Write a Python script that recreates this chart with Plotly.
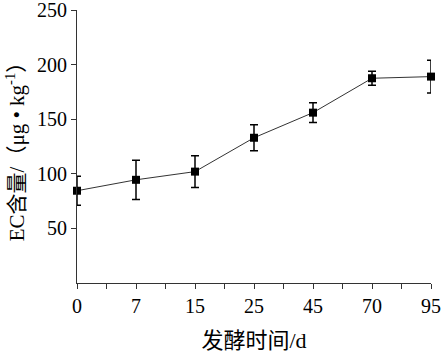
import plotly.graph_objects as go

days = ["0", "7", "15", "25", "45", "70", "95"]
ec = [84.5, 94.5, 102, 133, 156, 187.5, 189]
err = [13.3, 18, 14.6, 12, 9, 6.5, 15]
y_ticks = [50, 100, 150, 200, 250]

font_family = "Liberation Serif, Noto Sans CJK SC, serif"
cjk = "font-family:'Noto Sans CJK SC'"

fig = go.Figure()
fig.add_trace(go.Scatter(
    x=list(range(len(days))), y=ec,
    mode="lines+markers",
    line=dict(color="#333333", width=1),
    marker=dict(symbol="square", size=8, color="black"),
    error_y=dict(type="data", array=err, visible=True, color="black", thickness=1.5, width=4),
    cliponaxis=False,
    showlegend=False,
))

fig.update_layout(
    width=442, height=354,
    margin=dict(l=77, r=11, t=10, b=71, autoexpand=False),
    paper_bgcolor="white", plot_bgcolor="white",
    font=dict(family=font_family, size=20, color="black"),
    xaxis=dict(
        range=[0, 6], tickvals=list(range(len(days))), ticktext=days,
        showline=True, linecolor="#333333", linewidth=1,
        ticks="outside", ticklen=5, tickcolor="#333333",
        minor=dict(ticks="outside", dtick=0.5, tick0=0, ticklen=5, tickcolor="#333333"),
        showgrid=False, zeroline=False, automargin=False,
        ticklabeloverflow="allow",
        title=dict(text=f"<span style=\"{cjk}\">发酵时间</span>/d", font=dict(size=22, family=font_family), standoff=20),
    ),
    yaxis=dict(
        range=[0, 250], tickvals=y_ticks,
        showline=True, linecolor="#333333", linewidth=1,
        ticks="outside", ticklen=5, tickcolor="#333333",
        showgrid=False, zeroline=False, automargin=False,
        ticklabeloverflow="allow",
        title=dict(text=f"EC<span style=\"{cjk}\">含量</span>/（μg • kg<sup>-1</sup>）", font=dict(size=21, family=font_family), standoff=6),
    ),
)

fig.write_html("out.html")
